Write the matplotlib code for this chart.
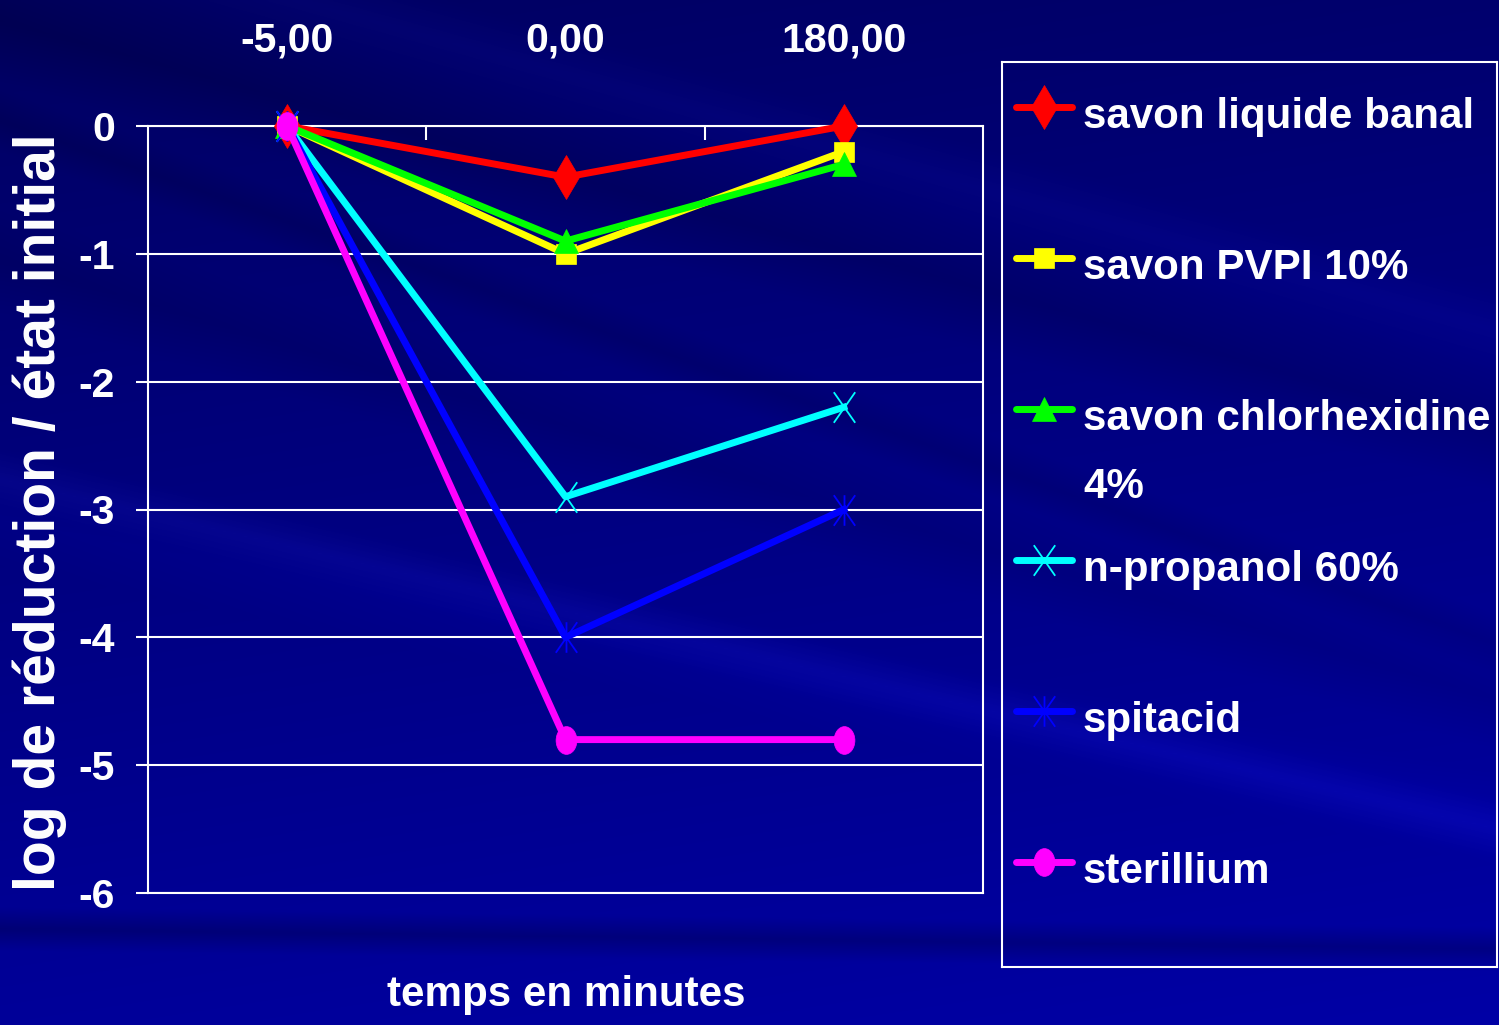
import numpy as np
import matplotlib
matplotlib.use("Agg")
import matplotlib.pyplot as plt
from matplotlib import font_manager as fm
from matplotlib.path import Path
from matplotlib.transforms import Affine2D

W_PX, H_PX = 1499, 1025
SANS = ["Liberation Sans", "DejaVu Sans"]

# data
times = ["-5,00", "0,00", "180,00"]
labels = ["savon liquide banal", "savon PVPI 10%", "savon chlorhexidine\n4%",
          "n-propanol 60%", "spitacid", "sterillium"]
savon_banal = [0.0, -0.4, 0.0]
savon_pvpi = [0.0, -1.0, -0.2]
savon_chlx = [0.0, -0.9, -0.3]
n_propanol = [0.0, -2.9, -2.2]
spitacid = [0.0, -4.0, -3.0]
sterillium = [0.0, -4.8, -4.8]
series = [savon_banal, savon_pvpi, savon_chlx, n_propanol, spitacid, sterillium]
colors = ["#ff0000", "#ffff00", "#00ff00", "#00ffff", "#0000ff", "#ff00ff"]


def fp(size):
    # no narrow face installed -> bold sans shrunk to the same text widths
    return fm.FontProperties(family=SANS, weight="bold", size=size * 0.82)


# excel-ish markers
x_tall = Path([(-0.7, -1), (0.7, 1), (-0.7, 1), (0.7, -1)],
              [Path.MOVETO, Path.LINETO, Path.MOVETO, Path.LINETO])
star_tall = Path([(-0.7, -1), (0.7, 1), (-0.7, 1), (0.7, -1), (0, -1), (0, 1)],
                 [Path.MOVETO, Path.LINETO] * 3)
ellipse = Path.unit_circle().transformed(Affine2D().scale(0.75, 1.0))
markers = [
    dict(marker="d", ms=22, mew=0.5),
    dict(marker="s", ms=14, mew=0.5),
    dict(marker="^", ms=17, mew=0.5),
    dict(marker=x_tall, ms=22, mew=1.3),
    dict(marker=star_tall, ms=22, mew=1.3),
    dict(marker=ellipse, ms=20, mew=0.5),
]
open_marker = [False, False, False, True, True, False]


def background():
    h, w = 410, 600
    v, u = np.mgrid[0:1:h * 1j, 0:1:w * 1j]
    b = 0.38 + 0.22 * v + 0.05 * u
    rg = np.zeros_like(b)

    def band(x0, y0, x1, y1, width, amp, tint=0.0):
        # soft diagonal streak, coords in pixels
        px, py = u * W_PX, v * H_PX
        dx, dy = x1 - x0, y1 - y0
        d = np.abs(dy * (px - x0) - dx * (py - y0)) / np.hypot(dx, dy)
        m = np.clip(1 - d / width, 0, 1)
        return amp * m, tint * m

    for args in [(0, 20, 1499, 430, 60, -0.06, 0.0), (300, 0, 1499, 330, 40, 0.04, 0.01),
                 (0, 260, 1499, 700, 50, -0.04, 0.0), (0, 520, 1499, 820, 45, 0.03, 0.0),
                 (0, 930, 1499, 950, 22, -0.12, 0.0), (1200, 760, 1499, 830, 30, 0.05, 0.02),
                 (0, 120, 600, 330, 30, -0.05, 0.0)]:
        db, dt = band(*args)
        b += db
        rg += dt
    img = np.dstack([rg, rg, np.clip(b, 0, 1)])
    return np.clip(img, 0, 1)


fig = plt.figure(figsize=(W_PX / 100, H_PX / 100), dpi=100)
bg = fig.add_axes([0, 0, 1, 1], zorder=-10)
bg.imshow(background(), extent=[0, 1, 0, 1], aspect="auto", interpolation="bilinear")
bg.axis("off")

ax = fig.add_axes([148 / W_PX, 1 - 893 / H_PX, 835 / W_PX, 767 / H_PX])
ax.set_facecolor("none")
x = np.arange(len(times))
for vals, c, mk, op in zip(series, colors, markers, open_marker):
    ax.plot(x, vals, color=c, lw=5, mec=c, mfc="none" if op else c,
            clip_on=False, zorder=3, **mk)

ax.set_xlim(-0.5, 2.5)
ax.set_ylim(-6, 0)
ax.xaxis.tick_top()
ax.set_xticks(x)
ax.set_xticklabels(times, fontproperties=fp(36), color="white")
ax.set_xticks([0.5, 1.5], minor=True)
ax.tick_params(axis="x", which="major", length=0, pad=48)
ax.tick_params(axis="x", which="minor", direction="in", length=10, width=1.5, color="white")
ax.set_yticks(np.arange(-6, 1))
ax.set_yticklabels([str(t) for t in range(-6, 1)], fontproperties=fp(36), color="white")
ax.tick_params(axis="y", length=9, width=1.5, color="white", pad=15)
ax.yaxis.grid(True, color="white", lw=1.5)
ax.set_axisbelow(True)
for s in ax.spines.values():
    s.set_color("white")
    s.set_linewidth(1.5)

fig.text(40 / W_PX, 1 - 512 / H_PX, "log de réduction / état initial", rotation=90,
         ha="center", va="center", family=SANS, weight="bold", fontsize=41, color="white")
fig.text(566 / W_PX, 1 - 995 / H_PX, "temps en minutes", ha="center", va="center",
         fontproperties=fp(37), color="white")

# legend box drawn by hand (two-line entry needs the handle on its first line)
lax = fig.add_axes([1002 / W_PX, 1 - 967 / H_PX, 495 / W_PX, 905 / H_PX])
lax.set_xlim(1002, 1497)
lax.set_ylim(967, 62)
lax.set_facecolor("none")
lax.set_xticks([])
lax.set_yticks([])
for s in lax.spines.values():
    s.set_color("white")
    s.set_linewidth(1.5)
for i, (lab, c, mk, op) in enumerate(zip(labels, colors, markers, open_marker)):
    yy = 107 + 151 * i
    lax.plot([1016, 1072], [yy, yy], color=c, lw=5, solid_capstyle="round")
    lax.plot([1044], [yy], color=c, mec=c, mfc="none" if op else c, **mk)
    for j, line in enumerate(lab.split("\n")):
        lax.text(1083, yy + 21 + 68 * j, line, ha="left", va="baseline",
                 fontproperties=fp(37), color="white")

fig.savefig("out.png", dpi=100)
